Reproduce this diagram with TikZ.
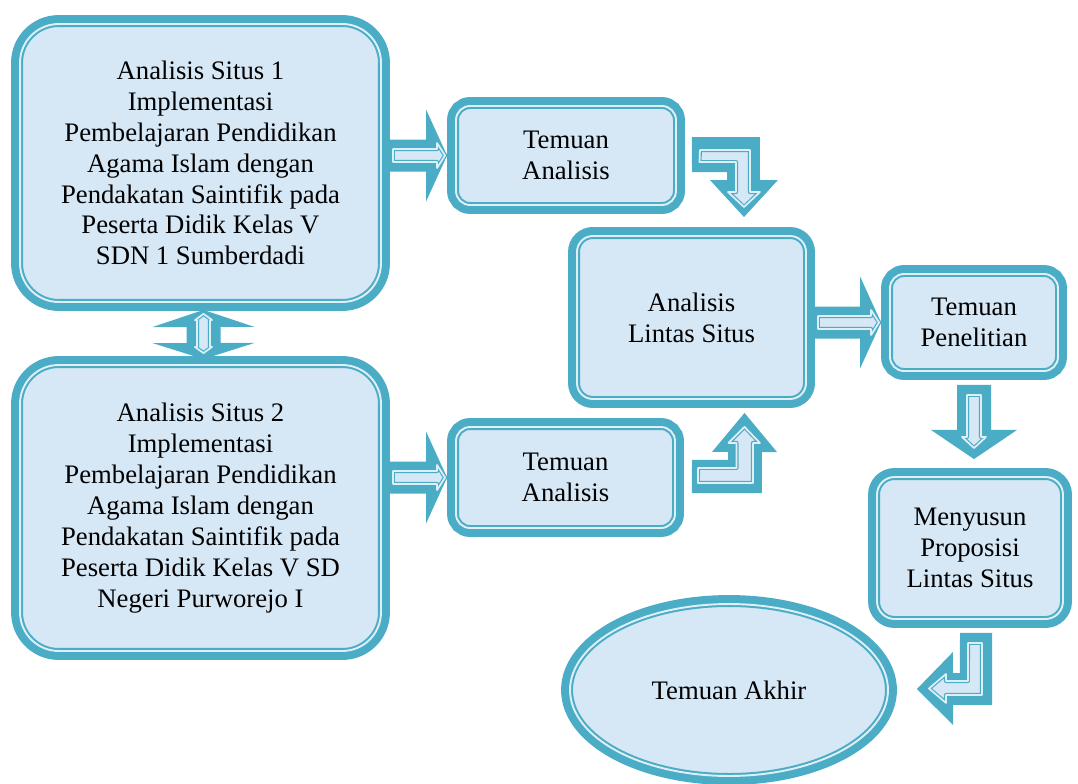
\documentclass[tikz,border=0pt]{standalone}
\usepackage{fontspec}
\setmainfont{Liberation Serif}
\usetikzlibrary{shapes.geometric, calc, backgrounds}
\definecolor{aqua}{RGB}{75,172,198}
\definecolor{boxfill}{RGB}{214,231,245}
\definecolor{lightline}{RGB}{222,239,246}

% block arrow pointing right, from tail #1 to tip #2
\newcommand{\rightblock}[2]{%
  \fill[arrowbody] ($(#1)+(-4,-16)$) -- ($(#2)+(-21,-16)$) -- ++(0,-30) -- (#2) -- ($(#2)+(-21,46)$) -- ++(0,-30) -- ($(#1)+(-4,16)$) -- cycle;
  \draw[arrowcore] ($(#1)+(3,-6.5)$) -- ($(#2)+(-10,-6.5)$) -- ++(0,-6) -- ($(#2)+(-2,0)$) -- ($(#2)+(-10,12.5)$) -- ++(0,-6) -- ($(#1)+(3,6.5)$) -- cycle;
}

\begin{document}
\begin{tikzpicture}[
    x=0.02cm, y=-0.02cm,
    framed/.style={fill=boxfill, draw=aqua, line width=3.4pt, inner sep=0pt, outer sep=5.1pt,
        preaction={draw=aqua, line width=10.2pt},
        postaction={draw=lightline, line width=1.1pt},
        align=center, font=\fontsize{15.2}{17.6}\selectfont},
    box/.style={framed, rectangle, rounded corners=#1},
    oval/.style={framed, ellipse},
    arrowbody/.style={fill=aqua},
    arrowcore/.style={fill=boxfill, draw=aqua, line width=2.3pt, line join=round,
        postaction={draw=lightline, line width=1pt}}
]
    \useasboundingbox (0,0) rectangle (1078,784);

    % Sites
    \node[box=22pt, minimum width=7.22cm, minimum height=5.56cm] (s1) at (200.5,163)
        {Analisis Situs 1\\Implementasi\\Pembelajaran Pendidikan\\Agama Islam dengan\\Pendakatan Saintifik pada\\Peserta Didik Kelas V\\SDN 1 Sumberdadi};
    \node[box=22pt, minimum width=7.22cm, minimum height=5.72cm] (s2) at (200.5,508)
        {Analisis Situs 2\\Implementasi\\Pembelajaran Pendidikan\\Agama Islam dengan\\Pendakatan Saintifik pada\\Peserta Didik Kelas V SD\\Negeri Purworejo I};

    % Findings
    \node[box=8pt, minimum width=4.4cm, minimum height=1.98cm] (ta1) at (566,155.5) {Temuan\\Analisis};
    \node[box=8pt, minimum width=4.38cm, minimum height=2.02cm] (ta2) at (565.5,477.5) {Temuan\\Analisis};
    \node[box=9pt, minimum width=4.58cm, minimum height=3.26cm] (als) at (691.5,317.5) {Analisis\\Lintas Situs};
    \node[box=8pt, minimum width=3.36cm, minimum height=1.94cm] (tp) at (974,322.5) {Temuan\\Penelitian};
    \node[box=10pt, minimum width=3.72cm, minimum height=2.84cm] (mp) at (970,548) {Menyusun\\Proposisi\\Lintas Situs};
    \node[oval, minimum width=6.36cm, minimum height=3.44cm] (akhir) at (729,690) {Temuan Akhir};

    % Arrows
    \begin{scope}[on background layer]
        \coordinate (a1) at (s1.east |- ta1.west);
        \coordinate (a2) at (s2.east |- ta2.west);
        \coordinate (a3) at (als.east |- tp.west);
        \rightblock{a1}{ta1.west}
        \rightblock{a2}{ta2.west}
        \rightblock{a3}{tp.west}

        % up-down between sites
        \fill[arrowbody] ($(s1.south)+(3,-1)$) -- ++(51,17) -- ++(-34,0) -- ++(0,16) -- ++(34,0)
            -- ($(s2.north)+(3,3)$) -- ++(-51,-16) -- ++(34,0) -- ++(0,-16) -- ++(-34,0) -- cycle;
        \draw[arrowcore] ($(s1.south)+(3,3)$) -- ++(8.5,6) -- ++(-2,0) -- ++(0,27) -- ++(2,0)
            -- ($(s2.north)+(3,-3)$) -- ++(-8.5,-6) -- ++(2,0) -- ++(0,-27) -- ++(-2,0) -- cycle;

        % bent arrow down into cross-site analysis
        \fill[arrowbody] ($(ta1.east)+(7,-18.5)$) -- ++(68,0) -- ++(0,43) -- ++(18,0)
            -- ($(als.north)+(52.5,-10)$) -- ++(-34,-37) -- ++(17,0) -- ++(0,-8) -- ++(-35,0) -- cycle;
        \draw[arrowcore] ($(ta1.east)+(15,-5.5)$) -- ++(50,0) -- ++(0,42) -- ++(10,0)
            -- ($(als.north)+(52.5,-20)$) -- ++(-16,-15) -- ++(8,0) -- ++(0,-30) -- ++(-36.5,0) -- cycle;

        % bent arrow up into cross-site analysis
        \fill[arrowbody] ($(ta2.east)+(8,15.5)$) -- ++(70,0) -- ++(0,-41) -- ++(15,0)
            -- ($(als.south)+(53,5)$) -- ++(-32.5,39) -- ++(16,0) -- ++(0,8) -- ++(-36,0) -- cycle;
        \draw[arrowcore] ($(ta2.east)+(14,5.5)$) -- ++(55,0) -- ++(0,-40) -- ++(7,0)
            -- ($(als.south)+(53,19)$) -- ++(-16,16) -- ++(8,0) -- ++(0,25) -- ++(-38.5,0) -- cycle;

        % down to propositions
        \fill[arrowbody] ($(tp.south)+(-17,5)$) -- ++(34,0) -- ++(0,45) -- ++(26,0)
            -- ($(tp.south |- mp.north)+(0,-9)$) -- ($(tp.south)+(-43,50)$) -- ++(26,0) -- cycle;
        \draw[arrowcore] ($(tp.south)+(-7,15)$) -- ++(14,0) -- ++(0,42) -- ++(5,0)
            -- ($(tp.south |- mp.north)+(0,-20)$) -- ($(tp.south)+(-12,57)$) -- ++(5,0) -- cycle;

        % bent arrow to final findings
        \fill[arrowbody] ($(mp.south)+(-10,5)$) -- ++(32,0) -- ++(0,72) -- ++(-39,0) -- ++(0,20)
            -- ($(akhir.east)+(20,-1)$) -- ++(36,-37) -- ++(0,21) -- ++(7,0) -- cycle;
        \draw[arrowcore] ($(mp.south)+(-2,15)$) -- ++(14,0) -- ++(0,52) -- ++(-36,0) -- ++(0,8)
            -- ($(akhir.east)+(32,-1.5)$) -- ++(17,-14.5) -- ++(0,7) -- ++(22,0) -- cycle;
    \end{scope}
\end{tikzpicture}
\end{document}
